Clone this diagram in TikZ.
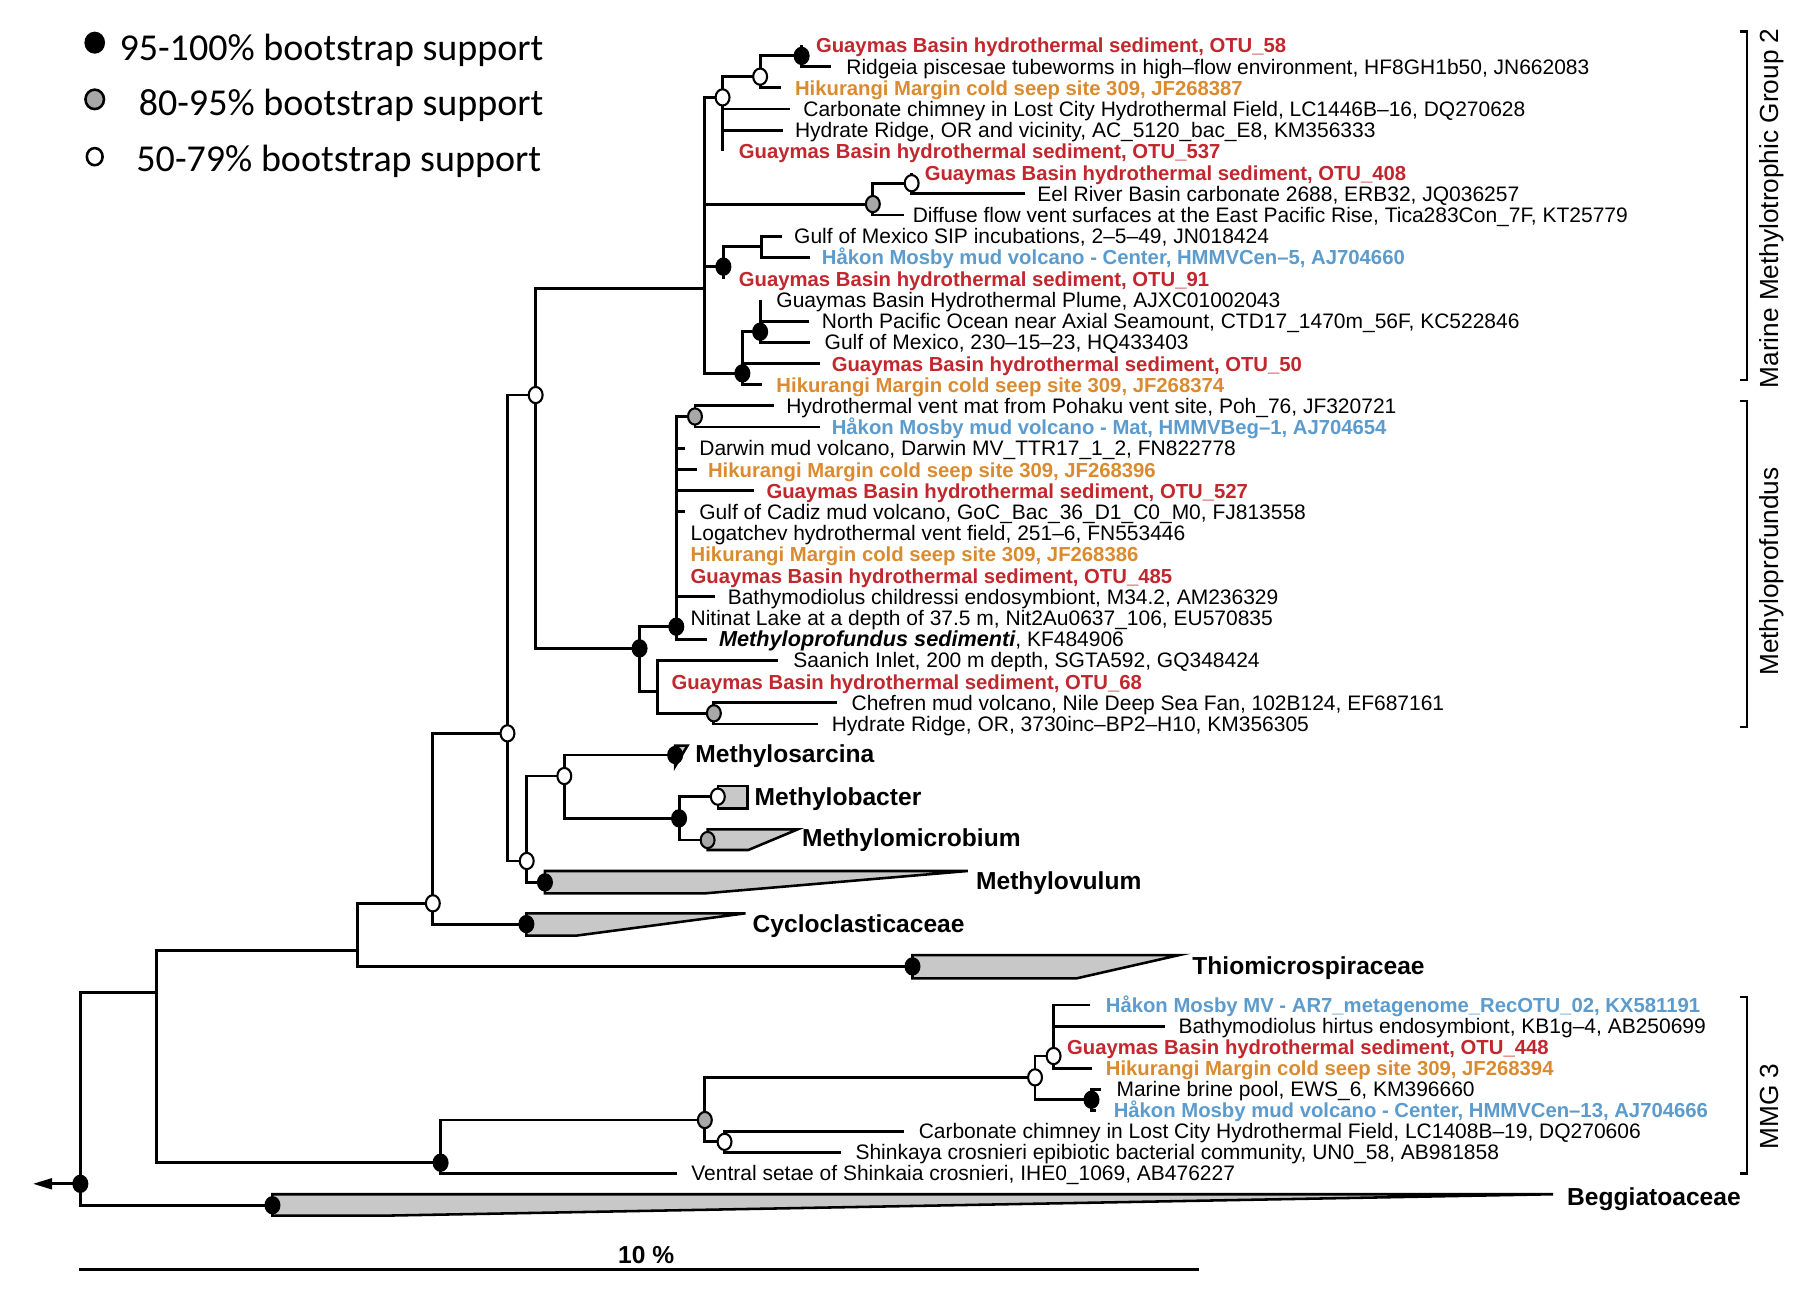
\documentclass[tikz,border=0pt]{standalone}
\usepackage{fontspec}
\setmainfont{Liberation Sans}
\newfontfamily\legendfont{Carlito}
\usetikzlibrary{shapes.geometric,arrows.meta}
\definecolor{gbred}{HTML}{C1272D}
\definecolor{hkor}{HTML}{DA8B30}
\definecolor{hmbl}{HTML}{5B9BCD}
\definecolor{wedgegray}{HTML}{C8C8C8}
\definecolor{nodegray}{HTML}{A8A8A8}
\newcommand\mkleaf[6]{\coordinate (e#1) at (#2,#3); \node[#5] (t#1) at (#4,#3+6.5) {#6};}
\begin{document}
\begin{tikzpicture}[x=0.5pt,y=-0.5pt,
 tline/.style={line width=1.25pt, line join=miter},
 wedge/.style={draw=black, fill=wedgegray, line width=1.1pt, line join=miter},
 dotb/.style={ellipse, draw=black, fill=black, line width=0.9pt, minimum width=6pt, minimum height=7pt, inner sep=0pt},
 dotg/.style={dotb, fill=nodegray},
 doto/.style={dotb, fill=white},
 lf/.style={anchor=base west, inner sep=0pt, font=\fontsize{9.05}{11}\selectfont},
 lbold/.style={anchor=base west, inner sep=0pt, font=\fontsize{8.75}{10}\selectfont\bfseries},
 lr/.style={lbold, text=gbred},
 lo/.style={lbold, text=hkor},
 lb/.style={lbold, text=hmbl},
 clab/.style={anchor=base west, inner sep=0pt, font=\fontsize{10.6}{12}\selectfont\bfseries},
 grp/.style={anchor=base, rotate=90, inner sep=0pt, font=\fontsize{11.3}{13}\selectfont},
 leg/.style={anchor=base west, inner sep=0pt, font=\legendfont\fontsize{16.4}{19}\selectfont},
 bracketline/.style={line width=1pt}]
\fill[white] (0,0) rectangle (1568,1125.5);
\useasboundingbox (0,0) rectangle (1568,1125.5);

% ---------- legend
\node[dotb, minimum width=8pt, minimum height=8.6pt] (lg1) at (81.7,36.8) {};
\node[dotg, minimum width=8pt, minimum height=8.4pt, line width=1.1pt] (lg2) at (81.7,85.7) {};
\node[doto, minimum width=6.8pt, minimum height=7.4pt, line width=1.1pt] (lg3) at (81.7,135.1) {};
\node[leg] (lt1) at (102.7,51.75) {95-100\% bootstrap support};
\node[leg] (lt2) at (119.3,99.2) {80-95\% bootstrap support};
\node[leg] (lt3) at (117.3,148) {50-79\% bootstrap support};

% ---------- internal node coordinates
\coordinate (root) at (69.3,1021);
\coordinate (arrowtip) at (28.3,1021);
\coordinate (nI) at (135,856.2);
\coordinate (nH) at (308.3,820);
\coordinate (nD) at (373.3,779.1);
\coordinate (nC) at (437.7,632.5);
\coordinate (nA) at (462,340.7);
\coordinate (nE) at (454.3,742.6);
\coordinate (nF) at (486.7,669.3);
\coordinate (nG) at (585.7,705.8);
\coordinate (nM2) at (607.9,249);
\coordinate (s1) at (623.2,84);
\coordinate (b1) at (655.6,66.1);
\coordinate (b2) at (691.4,48.2);
\coordinate (s2) at (752.8,176);
\coordinate (s2a) at (786.3,158);
\coordinate (s3) at (623.9,230);
\coordinate (s3a) at (656.7,212.8);
\coordinate (s4) at (640.3,322);
\coordinate (s4a) at (655.6,286.1);
\coordinate (nMP) at (551.6,559.2);
\coordinate (p1) at (583.3,540.5);
\coordinate (p1a) at (599.4,359.2);
\coordinate (p2) at (567,596.5);
\coordinate (p2a) at (615.7,615.2);
\coordinate (nJ) at (380,1002.8);
\coordinate (nK) at (607.9,966);
\coordinate (nL) at (892.7,929.2);
\coordinate (nN) at (908.7,910.8);
\coordinate (nO) at (941.4,948.5);
\coordinate (nM) at (624.9,984.8);
% collapsed clades
\coordinate (cMsar) at (582.3,651.2);
\coordinate (cMbac) at (619.1,687.1);
\coordinate (cMmic) at (610.3,724.5);
\coordinate (cMvul) at (470,761);
\coordinate (cCyc) at (454,797);
\coordinate (cThio) at (787,833.5);
\coordinate (cBeg) at (235,1039.5);

% ---------- wedges
\draw[wedge] (582.3,643) -- (593,643) -- (582.3,661) -- cycle;
\draw[wedge] (619.1,677.9) rectangle (644.7,697.2);
\draw[wedge] (610.3,715.3) -- (688,715.3) -- (645.4,733.1) -- (610.3,733.1) -- cycle;
\draw[wedge] (470,751.2) -- (834.7,751.2) -- (607.9,770.5) -- (470,770.5) -- cycle;
\draw[wedge] (454,787.7) -- (643,787.7) -- (496.7,807) -- (454,807) -- cycle;
\draw[wedge] (787,823.7) -- (1017.2,823.7) -- (928.5,843.8) -- (787,843.8) -- cycle;
\draw[wedge] (235,1030) -- (1339.6,1030) -- (330,1048.5) -- (235,1048.5) -- cycle;

% ---------- leaves: Marine Methylotrophic Group 2
\mkleaf{1}{691.4}{39.1}{703.4}{lr}{Guaymas Basin hydrothermal sediment, OTU\_58}
\mkleaf{2}{717}{57.4}{729.6}{lf}{Ridgeia piscesae tubeworms in high–flow environment, HF8GH1b50, JN662083}
\mkleaf{3}{673.7}{75.7}{685.3}{lo}{Hikurangi Margin cold seep site 309, JF268387}
\mkleaf{4}{681.2}{94.0}{692.5}{lf}{Carbonate chimney in Lost City Hydrothermal Field, LC1446B–16, DQ270628}
\mkleaf{5}{675.1}{112.3}{685.3}{lf}{Hydrate Ridge, OR and vicinity, AC\_5120\_bac\_E8, KM356333}
\mkleaf{6}{623.2}{130.6}{636.9}{lr}{Guaymas Basin hydrothermal sediment, OTU\_537}
\mkleaf{7}{786.3}{148.8}{797.2}{lr}{Guaymas Basin hydrothermal sediment, OTU\_408}
\mkleaf{8}{884.1}{167.1}{894.4}{lf}{Eel River Basin carbonate 2688, ERB32, JQ036257}
\mkleaf{9}{779.4}{185.4}{786.9}{lf}{Diffuse flow vent surfaces at the East Pacific Rise, Tica283Con\_7F, KT25779}
\mkleaf{10}{674.4}{203.7}{684.6}{lf}{Gulf of Mexico SIP incubations, 2–5–49, JN018424}
\mkleaf{11}{698.3}{222.0}{708.5}{lb}{Håkon Mosby mud volcano - Center, HMMVCen–5, AJ704660}
\mkleaf{12}{623.9}{240.3}{636.9}{lr}{Guaymas Basin hydrothermal sediment, OTU\_91}
\mkleaf{13}{655.6}{258.6}{669.3}{lf}{Guaymas Basin Hydrothermal Plume, AJXC01002043}
\mkleaf{14}{697.6}{276.9}{708.5}{lf}{North Pacific Ocean near Axial Seamount, CTD17\_1470m\_56F, KC522846}
\mkleaf{15}{698.3}{295.2}{710.9}{lf}{Gulf of Mexico, 230–15–23, HQ433403}
\mkleaf{16}{706.8}{313.5}{717}{lr}{Guaymas Basin hydrothermal sediment, OTU\_50}
\mkleaf{17}{657.3}{331.7}{669.3}{lo}{Hikurangi Margin cold seep site 309, JF268374}
% ---------- leaves: Methyloprofundus
\mkleaf{18}{667.6}{350.0}{677.8}{lf}{Hydrothermal vent mat from Pohaku vent site, Poh\_76, JF320721}
\mkleaf{19}{706.8}{368.3}{717}{lb}{Håkon Mosby mud volcano - Mat, HMMVBeg–1, AJ704654}
\mkleaf{20}{590.8}{386.6}{602.8}{lf}{Darwin mud volcano, Darwin MV\_TTR17\_1\_2, FN822778}
\mkleaf{21}{601.1}{404.9}{610.3}{lo}{Hikurangi Margin cold seep site 309, JF268396}
\mkleaf{22}{650.5}{423.2}{660.7}{lr}{Guaymas Basin hydrothermal sediment, OTU\_527}
\mkleaf{23}{590.8}{441.5}{602.8}{lf}{Gulf of Cadiz mud volcano, GoC\_Bac\_36\_D1\_C0\_M0, FJ813558}
\mkleaf{24}{583.3}{459.8}{595.3}{lf}{Logatchev hydrothermal vent field, 251–6, FN553446}
\mkleaf{25}{583.3}{478.1}{595.3}{lo}{Hikurangi Margin cold seep site 309, JF268386}
\mkleaf{26}{583.3}{496.4}{595.3}{lr}{Guaymas Basin hydrothermal sediment, OTU\_485}
\mkleaf{27}{616.4}{514.7}{627.3}{lf}{Bathymodiolus childressi endosymbiont, M34.2, AM236329}
\mkleaf{28}{583.3}{532.9}{595.3}{lf}{Nitinat Lake at a depth of 37.5 m, Nit2Au0637\_106, EU570835}
\mkleaf{29}{609.6}{551.2}{619.8}{lf}{{\fontsize{9.35}{11}\selectfont\bfseries\itshape Methyloprofundus sedimenti}, KF484906}
\mkleaf{30}{671}{569.5}{683.9}{lf}{Saanich Inlet, 200 m depth, SGTA592, GQ348424}
\mkleaf{31}{567}{587.8}{578.9}{lr}{Guaymas Basin hydrothermal sediment, OTU\_68}
\mkleaf{32}{722.1}{606.1}{734.1}{lf}{Chefren mud volcano, Nile Deep Sea Fan, 102B124, EF687161}
\mkleaf{33}{705.1}{624.4}{717}{lf}{Hydrate Ridge, OR, 3730inc–BP2–H10, KM356305}
% ---------- leaves: MMG 3
\mkleaf{m1}{940.4}{866.8}{953.4}{lb}{Håkon Mosby MV - AR7\_metagenome\_RecOTU\_02, KX581191}
\mkleaf{m2}{1005.2}{885.0}{1016.1}{lf}{Bathymodiolus hirtus endosymbiont, KB1g–4, AB250699}
\mkleaf{m3}{908.7}{903.1}{920}{lr}{Guaymas Basin hydrothermal sediment, OTU\_448}
\mkleaf{m4}{941.4}{921.3}{953.4}{lo}{Hikurangi Margin cold seep site 309, JF268394}
\mkleaf{m5}{950}{939.4}{962.6}{lf}{Marine brine pool, EWS\_6, KM396660}
\mkleaf{m6}{945.5}{957.6}{960.2}{lb}{Håkon Mosby mud volcano - Center, HMMVCen–13, AJ704666}
\mkleaf{m7}{779.4}{975.7}{792}{lf}{Carbonate chimney in Lost City Hydrothermal Field, LC1408B–19, DQ270606}
\mkleaf{m8}{725.5}{993.9}{737.5}{lf}{Shinkaya crosnieri epibiotic bacterial community, UN0\_58, AB981858}
\mkleaf{m9}{584}{1012.0}{595.9}{lf}{Ventral setae of Shinkaia crosnieri, IHE0\_1069, AB476227}

% ---------- branches
\draw[tline, -{Triangle[length=8.3pt,width=4.6pt]}] (root) -- (arrowtip);
\draw[tline] (nI) -| (root) |- (cBeg);
\draw[tline] (nH) -| (nI) |- (nJ);
\draw[tline] (nD) -| (nH) |- (cThio);
\draw[tline] (nC) -| (nD) |- (cCyc);
\draw[tline] (nA) -| (nC) |- (nE);
\draw[tline] (nF) -| (nE) |- (cMvul);
\draw[tline] (cMsar) -| (nF) |- (nG);
\draw[tline] (cMbac) -| (nG) |- (cMmic);
\draw[tline] (nM2) -| (nA) |- (nMP);
% MMG2
\draw[tline] (s1) -| (nM2) |- (s4);
\draw[tline] (nM2 |- s2) -- (s2);
\draw[tline] (nM2 |- s3) -- (s3);
\draw[tline] (b1) -| (s1) |- (e6);
\draw[tline] (s1 |- e4) -- (e4);
\draw[tline] (s1 |- e5) -- (e5);
\draw[tline] (b2) -| (b1) |- (e3);
\draw[tline] (e1) -| (b2) |- (e2);
\draw[tline] (s2a) -| (s2) |- (e9);
\draw[tline] (e7) -| (s2a) |- (e8);
\draw[tline] (s3a) -| (s3) |- (e12);
\draw[tline] (e10) -| (s3a) |- (e11);
\draw[tline] (s4a) -| (s4) |- (e17);
\draw[tline] (s4 |- e16) -- (e16);
\draw[tline] (e13) -| (s4a) |- (e15);
\draw[tline] (s4a |- e14) -- (e14);
% Methyloprofundus
\draw[tline] (p1) -| (nMP) |- (p2);
\draw[tline] (p1a) -| (p1) |- (e29);
\draw[tline] (p1 |- e20) -- (e20);
\draw[tline] (p1 |- e21) -- (e21);
\draw[tline] (p1 |- e22) -- (e22);
\draw[tline] (p1 |- e23) -- (e23);
\draw[tline] (p1 |- e27) -- (e27);
\draw[tline] (e18) -| (p1a) |- (e19);
\draw[tline] (e30) -| (p2) |- (p2a);
\draw[tline] (e32) -| (p2a) |- (e33);
% MMG3
\draw[tline] (nK) -| (nJ) |- (em9);
\draw[tline] (nL) -| (nK) |- (nM);
\draw[tline] (em7) -| (nM) |- (em8);
\draw[tline] (nN) -| (nL) |- (nO);
\draw[tline] (em1) -| (nN) |- (em4);
\draw[tline] (nN |- em2) -- (em2);
\draw[tline] (em5) -| (nO) |- (em6);

% ---------- support markers
\foreach \p in {b2,s3,s4,s4a,p1,nMP,cMsar,nG,cMvul,cCyc,cThio,root,cBeg,nJ,nO}
  \node[dotb] (k\p) at (\p) {};
\foreach \p in {s2,p1a,p2a,cMmic,nK}
  \node[dotg] (k\p) at (\p) {};
\foreach \p in {s1,b1,s2a,nA,nC,nE,nF,nD,cMbac,nL,nN,nM}
  \node[doto] (k\p) at (\p) {};

% ---------- clade labels
\node[clab] (tMsar) at (599.4,657.8) {Methylosarcina};
\node[clab] (tMbac) at (650.5,694.3) {Methylobacter};
\node[clab] (tMmic) at (691.4,730.2) {Methylomicrobium};
\node[clab] (tMvul) at (841.5,767) {Methylovulum};
\node[clab] (tCyc) at (648.8,804.4) {Cycloclasticaceae};
\node[clab] (tThio) at (1028,840.1) {Thiomicrospiraceae};
\node[clab] (tBeg) at (1351.3,1039.9) {Beggiatoaceae};

% ---------- scale bar
\coordinate (sb1) at (68.3,1094.8);
\coordinate (sb2) at (1034.2,1094.8);
\draw[line width=1.15pt] (sb1) -- (sb2);
\node[clab] (tsb) at (532.8,1089.6) {10 \%};

% ---------- group brackets
\coordinate (g1a) at (1501,27.3); \coordinate (g1b) at (1507,27.3);
\coordinate (g1c) at (1507,327.8); \coordinate (g1d) at (1501,327.8);
\draw[bracketline] (g1a) -- (g1b) -- (g1c) -- (g1d);
\coordinate (g2a) at (1501,345.9); \coordinate (g2b) at (1507,345.9);
\coordinate (g2c) at (1507,627.3); \coordinate (g2d) at (1501,627.3);
\draw[bracketline] (g2a) -- (g2b) -- (g2c) -- (g2d);
\coordinate (g3a) at (1501,859.6); \coordinate (g3b) at (1507,859.6);
\coordinate (g3c) at (1507,1012); \coordinate (g3d) at (1501,1012);
\draw[bracketline] (g3a) -- (g3b) -- (g3c) -- (g3d);
\node[grp] (gMMG2) at (1534,179.7) {Marine Methylotrophic Group 2};
\node[grp] (gMP) at (1534,493) {Methyloprofundus};
\node[grp] (gMMG3) at (1534,954.5) {MMG 3};
\end{tikzpicture}
\end{document}
